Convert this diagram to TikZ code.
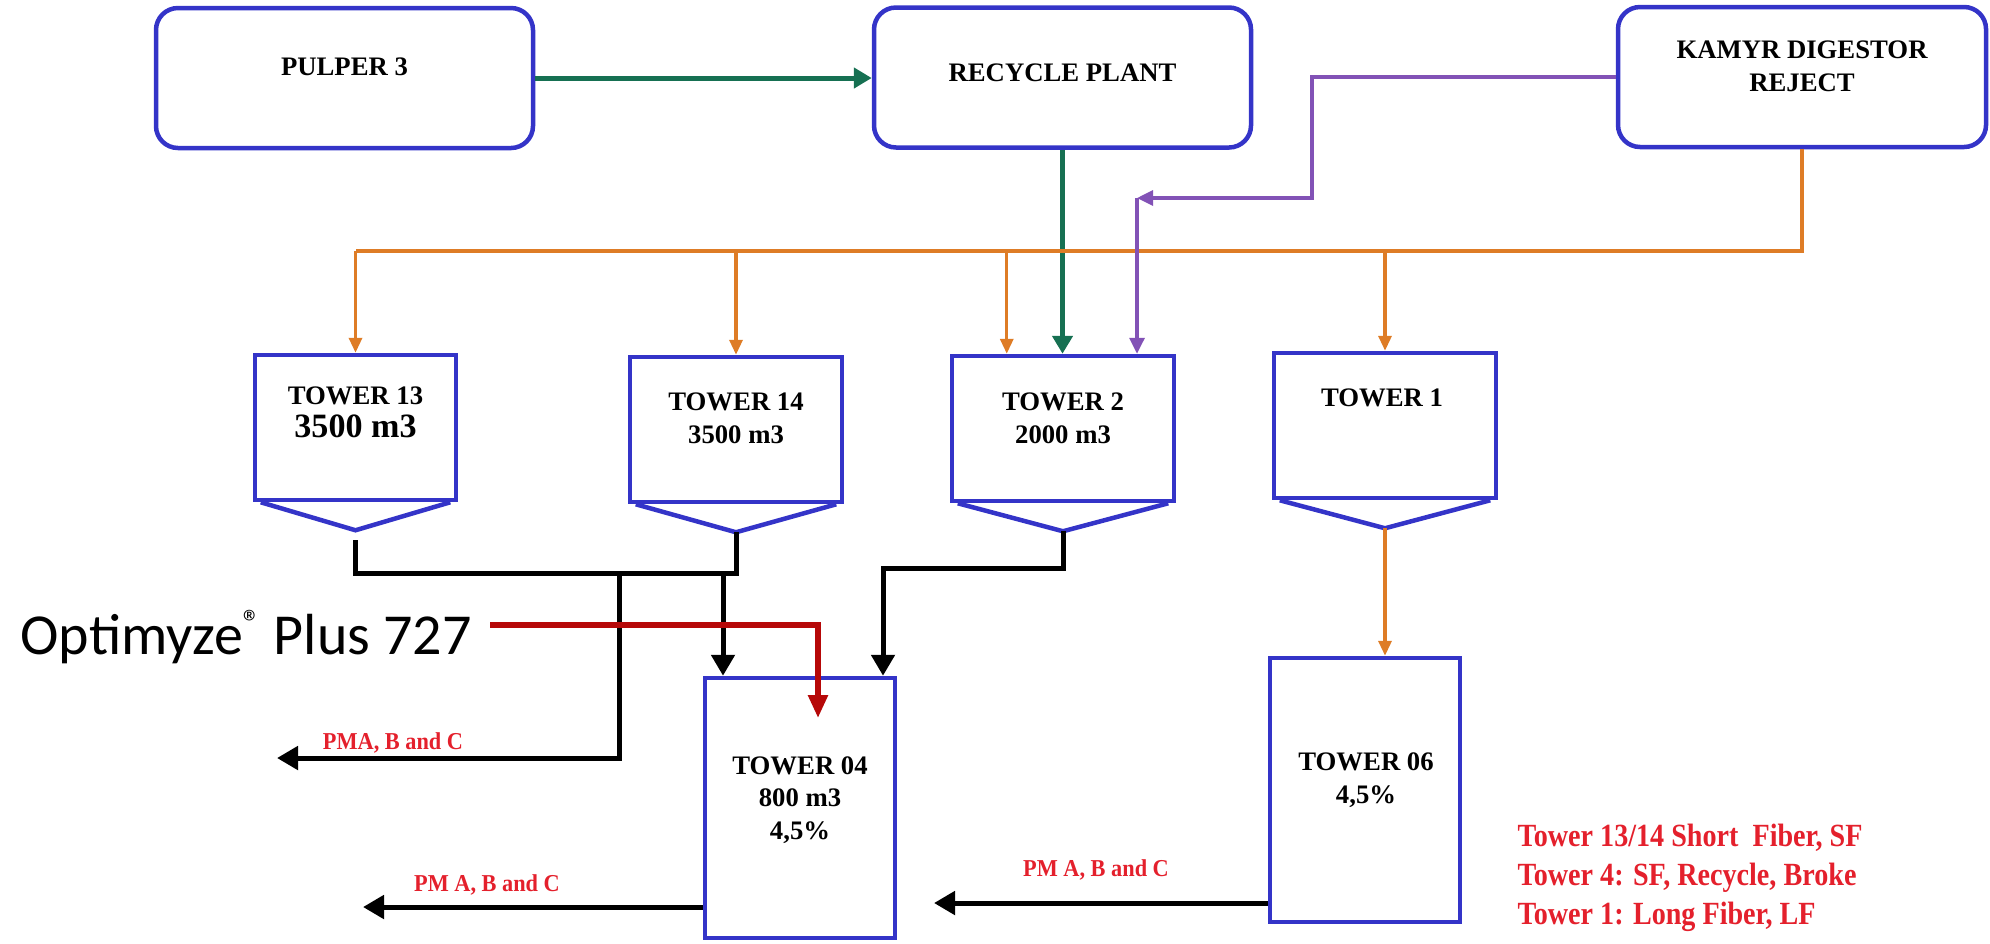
\documentclass[tikz,border=0pt]{standalone}
\usepackage{fontspec}
\setmainfont{Liberation Serif}
\newfontfamily\calibri{Carlito}
\usetikzlibrary{arrows.meta}

\definecolor{boxblue}{RGB}{52,52,200}
\definecolor{pipegreen}{RGB}{22,112,82}
\definecolor{pipeorange}{RGB}{222,124,38}
\definecolor{pipepurple}{RGB}{130,82,182}
\definecolor{dosered}{RGB}{182,8,8}
\definecolor{labelred}{RGB}{228,32,44}

\begin{document}
\begin{tikzpicture}[
			plant/.style = {draw=boxblue, line width=0.045cm, rounded corners=0.22cm, minimum width=3.77cm, minimum height=1.4cm, inner sep=0},
			tower/.style = {draw=boxblue, line width=0.045cm, minimum height=1.45cm, inner sep=0},
			funnel/.style = {draw=boxblue, line width=0.045cm, line join=miter},
			tag/.style = {font=\bfseries\fontsize{7.6}{9.3}\selectfont, align=center, inner sep=0},
			pm/.style = {font=\bfseries\fontsize{6.9}{7.5}\selectfont, text=labelred, inner sep=0, xscale=0.92, transform shape},
			green pipe/.style = {draw=pipegreen, line width=0.05cm, -{Triangle[width=0.2cm,length=0.18cm]}},
			orange pipe/.style = {draw=pipeorange, line width=0.033cm, -{Triangle[width=0.13cm,length=0.15cm]}},
			purple pipe/.style = {draw=pipepurple, line width=0.033cm, -{Triangle[width=0.15cm,length=0.16cm]}},
			black pipe/.style = {draw=black, line width=0.05cm, -{Triangle[width=0.23cm,length=0.21cm]}},
			dose pipe/.style = {draw=dosered, line width=0.055cm, -{Triangle[width=0.19cm,length=0.23cm]}}
		]

		\useasboundingbox (0,0) rectangle (19.9,-9.43);

		% sources
		\node[plant] (pulper) at (3.445,-0.78) {};
		\node[plant] (recycle) at (10.625,-0.775) {};
		\node[plant, minimum width=3.68cm] (kamyr) at (18.02,-0.77) {};
		\node[tag] (pulper text) at ([yshift=0.11cm]pulper.center) {PULPER 3};
		\node[tag] (recycle text) at ([yshift=0.05cm]recycle.center) {RECYCLE PLANT};
		\node[tag] (kamyr text) at ([yshift=0.11cm]kamyr.center) {KAMYR DIGESTOR\\REJECT};

		% storage towers
		\node[tower, minimum width=2.01cm] (t13) at (3.555,-4.275) {};
		\node[tower, minimum width=2.12cm] (t14) at (7.36,-4.295) {};
		\node[tower, minimum width=2.22cm] (t2) at (10.63,-4.285) {};
		\node[tower, minimum width=2.22cm] (t1) at (13.85,-4.255) {};
		\node[tower, minimum width=1.9cm, minimum height=2.6cm] (t04) at (8.00,-8.08) {};
		\node[tower, minimum width=1.9cm, minimum height=2.64cm] (t06) at (13.65,-7.90) {};

		\node[tag] (t13 text) at (3.555,-4.12) {TOWER 13\\{\fontsize{9.7}{11}\selectfont 3500 m3}};
		\node[tag] (t14 text) at (7.36,-4.18) {TOWER 14\\3500 m3};
		\node[tag] (t2 text) at (10.63,-4.18) {TOWER 2\\2000 m3};
		\node[tag] (t1 text) at (13.82,-3.98) {TOWER 1};
		\node[tag] (t04 text) at (8.00,-8.00) {TOWER 04\\800 m3\\4,5\%};
		\node[tag] (t06 text) at (13.66,-7.80) {TOWER 06\\4,5\%};

		\foreach \t in {t13,t14,t2,t1}{
			\coordinate (\t-cone) at ([yshift=-0.28cm]\t.south);
			\draw[funnel] ([xshift=0.08cm]\t.south west) -- (\t-cone) -- ([xshift=-0.08cm]\t.south east);
		}

		% feed lines
		\draw[green pipe] (pulper.east) -- (pulper.east -| recycle.west);
		\draw[green pipe] (recycle.south) -- (recycle.south |- t2.north);

		\coordinate (trunk) at (kamyr.south |- 0,-2.51);
		\draw[pipeorange, line width=0.033cm] (kamyr.south) -- (trunk) -- (t13.north |- trunk);
		\foreach \t in {t13,t14,t1}{
			\draw[orange pipe] (\t.north |- trunk) -- (\t.north);
		}
		\coordinate (t2 feed) at ([xshift=0.57cm]t2.north west);
		\draw[orange pipe] (t2 feed |- trunk) -- (t2 feed);

		\coordinate (purple bend) at (13.12,-0.77);
		\coordinate (purple elbow) at (11.37,-1.98);
		\draw[purple pipe] (kamyr.west |- purple bend) -- (purple bend) |- (purple elbow);
		\draw[purple pipe] (purple elbow) -- (purple elbow |- t2.north);

		% outlet lines
		\coordinate (t13 drop) at ([yshift=-0.1cm]t13-cone);
		\coordinate (collector) at (0,-5.73);
		\draw[line width=0.05cm] (t13 drop) |- (t14-cone |- collector) -- (t14-cone);
		\coordinate (split a) at (6.19,-5.73);
		\coordinate (split b) at (7.23,-5.73);
		\coordinate (pm out a) at (2.77,-7.58);
		\draw[black pipe] (split a) |- (pm out a);
		\draw[black pipe] (split b) -- (split b |- t04.north);

		\coordinate (t2 join) at (8.83,-5.68);
		\draw[black pipe] (t2-cone) |- (t2 join) -- (t2 join |- t04.north);

		\coordinate (pm out b) at (3.63,-9.07);
		\draw[black pipe] (t04.west |- pm out b) -- (pm out b);
		\coordinate (pm out c) at (9.34,-9.03);
		\draw[black pipe] (t06.west |- pm out c) -- (pm out c);

		\draw[orange pipe] (t1-cone) -- (t1-cone |- t06.north);

		\node[pm] (pm a) at (3.93,-7.43) {PMA, B and C};
		\node[pm] (pm b) at (4.87,-8.85) {PM A, B and C};
		\node[pm] (pm c) at (10.96,-8.70) {PM A, B and C};

		% chemical dosing
		\node[font=\calibri\fontsize{16.5}{18}\selectfont, inner sep=0] (optimyze) at (2.46,-6.37) {Optimyze\raisebox{0.33em}{\fontsize{10}{10}\selectfont ®} Plus 727};
		\coordinate (dose start) at (4.90,-6.25);
		\coordinate (dose in) at (8.18,-7.18);
		\draw[dose pipe] (dose start) -| (dose in);

		\node[font=\bfseries\fontsize{9.2}{11.1}\selectfont, text=labelred, align=left, anchor=west, inner sep=0, xscale=0.87, transform shape] (legend) at (15.17,-8.78) {Tower 13/14 Short\ \ Fiber, SF\\Tower 4: SF, Recycle, Broke\\Tower 1: Long Fiber, LF};

		\end{tikzpicture}
\end{document}
